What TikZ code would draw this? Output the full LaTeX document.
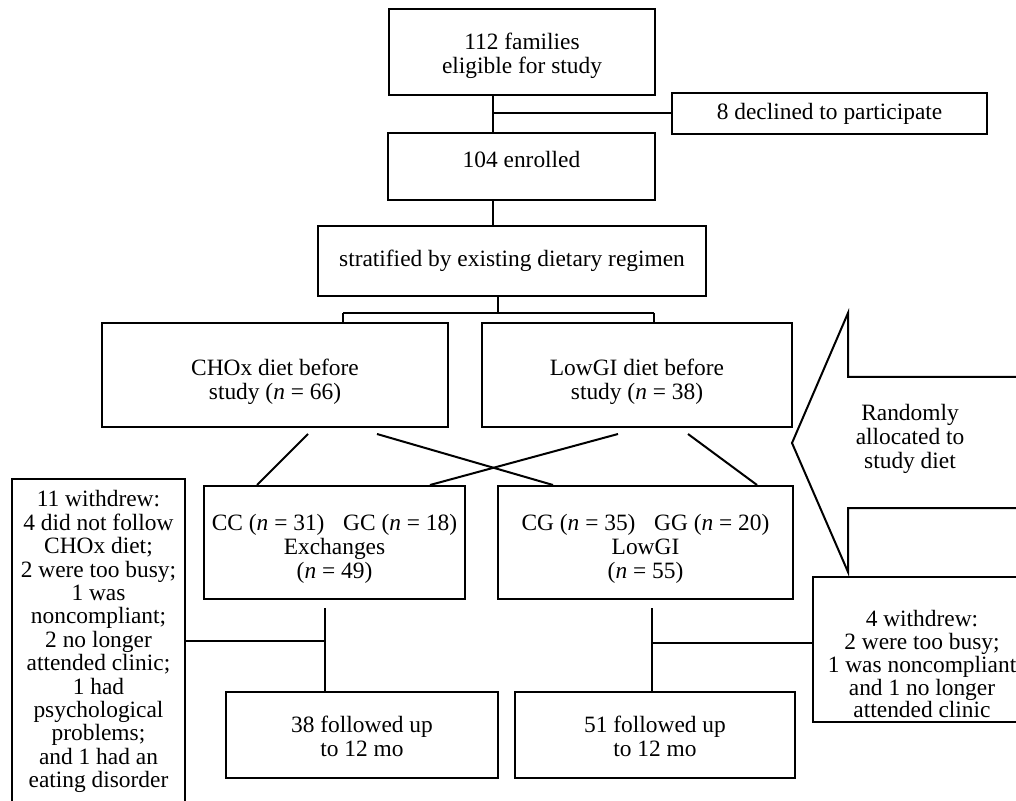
\documentclass[tikz,border=0pt]{standalone}
\usepackage{fontspec}
\setmainfont{Liberation Serif}
\usetikzlibrary{calc}

% stacked lines, moved up (+) or down (-) inside their box
\newcommand\shiftlines[2]{\raisebox{#1}[\height][\depth]{\begin{tabular}{@{}c@{}}#2\end{tabular}}}

\begin{document}
\begin{tikzpicture}[x=0.5pt, y=-0.5pt, font=\fontsize{11.7}{12}\selectfont,
    box/.style={draw, line width=1pt, align=center, inner sep=0pt},
    link/.style={line width=1pt}]

    % page frame (pixel units, y down)
    \useasboundingbox (0,0) rectangle (1016,801);
    \clip (0,0) rectangle (1016,801);

    % ===== 1. Enrolment =====
    \node[box, minimum width=133pt, minimum height=43pt] (eligible) at (522,52) {\shiftlines{-2.5pt}{112 families\\eligible for study}};
    \node[box, minimum width=157.5pt, minimum height=20.5pt] (declined) at (829.5,113.5) {8 declined to participate};
    \node[box, minimum width=133.5pt, minimum height=33.5pt] (enrolled) at (521.5,166.5) {\shiftlines{2pt}{104 enrolled}};
    \node[box, minimum width=194pt, minimum height=35pt] (stratified) at (512,261) {stratified by existing dietary regimen};

    \coordinate (trunk) at (493,113);
    \draw[link] (eligible.south -| trunk) -- (enrolled.north -| trunk);
    \draw[link] (trunk) -- (declined.west |- trunk);
    \draw[link] (enrolled.south -| trunk) -- (stratified.north -| trunk);

    % ===== 2. Existing diet =====
    \node[box, minimum width=173pt, minimum height=52pt] (chox) at (275,375) {\shiftlines{-4pt}{CHOx diet before\\study (\textit{n} = 66)}};
    \node[box, minimum width=155pt, minimum height=52pt] (lowgibefore) at (637,375) {\shiftlines{-4pt}{LowGI diet before\\study (\textit{n} = 38)}};

    \coordinate (split) at (498,313);
    \coordinate (splitL) at (343,313);
    \coordinate (splitR) at (654,313);
    \draw[link] (stratified.south -| split) -- (split);
    \draw[link] (splitL) -- (splitR);
    \draw[link] (splitL) -- (chox.north -| splitL);
    \draw[link] (splitR) -- (lowgibefore.north -| splitR);

    % ===== 3. Study diet =====
    \node[box, minimum width=130.5pt, minimum height=56.5pt] (exchanges) at (334.5,542.5) {\shiftlines{-3.5pt}{CC (\textit{n} = 31)\hspace{0.8em}GC (\textit{n} = 18)\\Exchanges\\(\textit{n} = 49)}};
    \node[box, minimum width=147.5pt, minimum height=56.5pt] (lowgi) at (645.5,542.5) {\shiftlines{-3.5pt}{CG (\textit{n} = 35)\hspace{0.8em}GG (\textit{n} = 20)\\LowGI\\(\textit{n} = 55)}};

    \draw[link] ($(chox.south)+(33,6)$) -- ($(exchanges.north)+(-77.5,0)$);
    \draw[link] ($(chox.south)+(102,6)$) -- ($(lowgi.north)+(-92.5,0)$);
    \draw[link] ($(lowgibefore.south)+(-19,6)$) -- ($(exchanges.north)+(95.5,0)$);
    \draw[link] ($(lowgibefore.south)+(51,6)$) -- ($(lowgi.north)+(111.5,0)$);

    % randomisation arrow
    \draw[link, line join=miter] (1030,377) -- (848,377) -- (848,313) -- (792,443)
        -- (848,572) -- (848,508) -- (1030,508);
    \node[align=center] (allocate) at (910,439) {Randomly\\allocated to\\study diet};

    % ===== 4. Withdrawals and follow-up =====
    \node[box, anchor=north, minimum width=86.5pt, minimum height=171pt] (withdrewA) at (98.5,478)
        {\def\arraystretch{0.975}\shiftlines{3.75pt}{11 withdrew:\\4 did not follow\\CHOx diet;\\2 were too busy;\\1 was\\noncompliant;\\2 no longer\\attended clinic;\\1 had\\psychological\\problems;\\and 1 had an\\eating disorder}};
    \node[box, minimum width=109pt, minimum height=72.5pt] (withdrewB) at (922,649.5)
        {\def\arraystretch{0.9}\shiftlines{-9pt}{4 withdrew:\\2 were too busy;\\1 was noncompliant\\and 1 no longer\\attended clinic}};

    \node[box, minimum width=136pt, minimum height=43pt] (followA) at (362,735) {\shiftlines{-2.5pt}{38 followed up\\to 12 mo}};
    \node[box, minimum width=140pt, minimum height=43pt] (followB) at (655,735) {\shiftlines{-2.5pt}{51 followed up\\to 12 mo}};

    \coordinate (joinA) at (325,641);
    \coordinate (joinB) at (652,643);
    \draw[link] ($(exchanges.south -| joinA)+(0,8)$) -- (followA.north -| joinA);
    \draw[link] (withdrewA.east |- joinA) -- (joinA);
    \draw[link] ($(lowgi.south -| joinB)+(0,8)$) -- (followB.north -| joinB);
    \draw[link] (joinB) -- (withdrewB.west |- joinB);

\end{tikzpicture}
\end{document}
